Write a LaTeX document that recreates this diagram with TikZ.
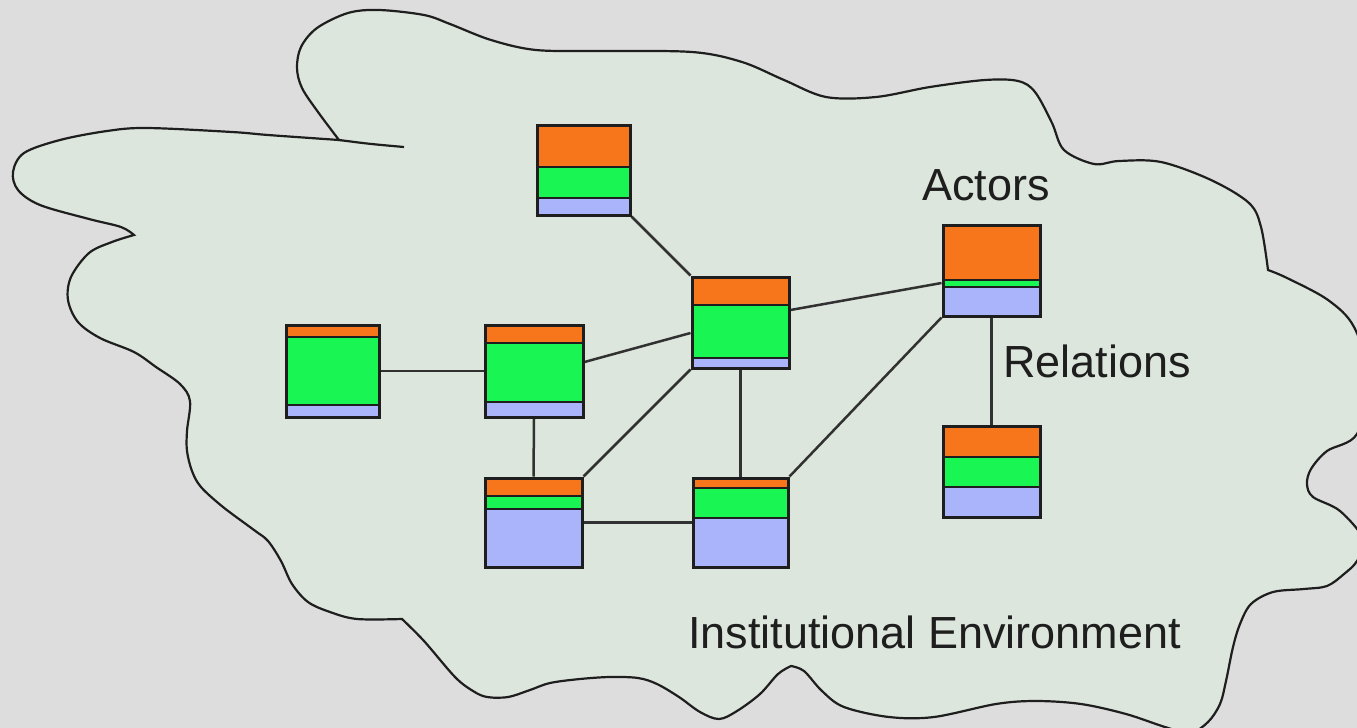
\documentclass[tikz,border=0pt]{standalone}
\usepackage{fontspec}
\setmainfont{Liberation Sans}
\usetikzlibrary{fit,backgrounds}
\definecolor{bgcol}{HTML}{DDDDDD}
\definecolor{cloudfill}{HTML}{DCE6DC}
\definecolor{band1}{HTML}{F7761B}
\definecolor{band2}{HTML}{19F552}
\definecolor{band3}{HTML}{A9B4FA}
\definecolor{inkcol}{HTML}{1E1E1E}

% actor box: name, x1, y1, x2, y2, orange/green split, green/blue split
\newcommand{\actorbox}[7]{%
  \fill[band1] (#2,#3) rectangle (#4,#6);
  \fill[band2] (#2,#6) rectangle (#4,#7);
  \fill[band3] (#2,#7) rectangle (#4,#5);
  \draw[sepline] (#2,#6) -- (#4,#6);
  \draw[sepline] (#2,#7) -- (#4,#7);
  \node[boxframe, fit={(#2,#3) (#4,#5)}] (#1) {};
}

\begin{document}
\begin{tikzpicture}[x=1pt, y=-1pt,
  boxframe/.style={draw=inkcol, line width=3pt, inner sep=0pt},
  sepline/.style={draw=inkcol, line width=2.5pt},
  link/.style={draw=inkcol!80!gray, line width=2.5pt},
  cloudline/.style={draw=inkcol, line width=2.2pt},
  lbl/.style={inner sep=0pt, text=inkcol, font=\fontsize{45}{52}\selectfont}]

\useasboundingbox (0,0) rectangle (1357,728);

\begin{scope}[on background layer]
  \fill[bgcol] (0,0) rectangle (1357,728);
  \begin{scope}
    \clip (0,0) rectangle (1357,728);
    % the institutional environment cloud
    \filldraw[cloudline, fill=cloudfill]
      plot[smooth, tension=0.55] coordinates {
        (339,140) (318,112) (302,88) (297,68) (301,47) (317,28) (348,13)
        (379,10) (424,15) (450,24) (491,40) (536,50) (600,51) (692,52)
        (742,62) (784,80) (826,97) (876,97) (930,87) (985,80) (1018,81)
        (1035,92) (1052,123) (1064,150) (1094,164) (1119,161) (1161,162)
        (1211,180) (1249,203) (1261,227) (1268,270)}
      -- plot[smooth, tension=0.55] coordinates {
        (1268,270) (1287,278) (1328,300) (1354,327) (1370,380) (1357,434)
        (1327,451) (1311,469) (1307,484) (1313,497) (1340,511) (1364,540)
        (1357,561) (1344,574) (1327,586) (1304,589) (1273,592) (1251,604)
        (1240,624) (1233,647) (1226,681) (1220,704) (1208,722) (1190,733)
        (1165,727) (1126,714) (1081,704) (1036,701) (996,704) (934,717)
        (889,717) (844,707) (822,691) (804,671) (791,666)}
      -- plot[smooth, tension=0.55] coordinates {
        (791,666) (778,674) (760,694) (737,711) (719,719) (700,712)
        (679,697) (657,684) (638,678) (610,677) (580,679) (550,683)
        (530,690) (508,697) (487,697) (473,691) (455,677) (424,641)
        (402,619)}
      -- plot[smooth, tension=0.55] coordinates {
        (402,619) (357,619) (330,612) (308,602) (292,584) (281,561)
        (268,541) (254,530) (223,507) (201,487) (192,471) (187,451)
        (187,431) (190,401) (180,384) (156,367) (134,352) (100,338)
        (78,322) (68,300) (71,277) (89,253) (112,242) (134,235)}
      -- plot[smooth, tension=0.55] coordinates {
        (134,235) (121,227) (89,219) (40,205) (18,190) (13,172)
        (24,153) (60,140) (107,131) (147,128) (232,132) (268,135)
        (339,140)}
      -- cycle;
  \end{scope}
  \draw[cloudline] (339,140) .. controls (370,144) .. (404,147);
\end{scope}

% actors
\actorbox{top}{537}{125}{630}{215}{167}{198}
\actorbox{left}{286}{325}{379}{417}{337}{405}
\actorbox{midleft}{485}{325}{583}{417}{343}{402}
\actorbox{hub}{692}{277}{789}{368}{305}{358}
\actorbox{actor}{943}{225}{1040}{316}{280}{287}
\actorbox{lowleft}{485}{478}{582}{567}{496}{509}
\actorbox{lowmid}{693}{478}{788}{567}{488}{518}
\actorbox{lowright}{943}{426}{1040}{517}{457}{487}

% relations
\begin{scope}[on background layer]
  \draw[link] (top.south east) -- (hub.north west);
  \draw[link] (left.east) -- (midleft.west);
  \draw[link] ([yshift=9pt]midleft.east) -- ([yshift=-10.5pt]hub.west);
  \draw[link] ([yshift=12.5pt]hub.east) -- ([yshift=-12.5pt]actor.west);
  \draw[link] (midleft.south) -- (lowleft.north);
  \draw[link] (lowleft.north east) -- (hub.south west);
  \draw[link] (hub.south) -- (lowmid.north);
  \draw[link] (lowmid.north east) -- (actor.south west);
  \draw[link] (lowleft.east) -- (lowmid.west);
  \draw[link] (actor.south) -- (lowright.north);
\end{scope}

% labels
\node[lbl, anchor=base west] (actorslbl) at (922,200) {Actors};
\node[lbl, anchor=base west] (relationslbl) at (1003,377) {Relations};
\node[lbl, anchor=base west] (envlbl) at (688,648) {Institutional Environment};
\end{tikzpicture}
\end{document}
